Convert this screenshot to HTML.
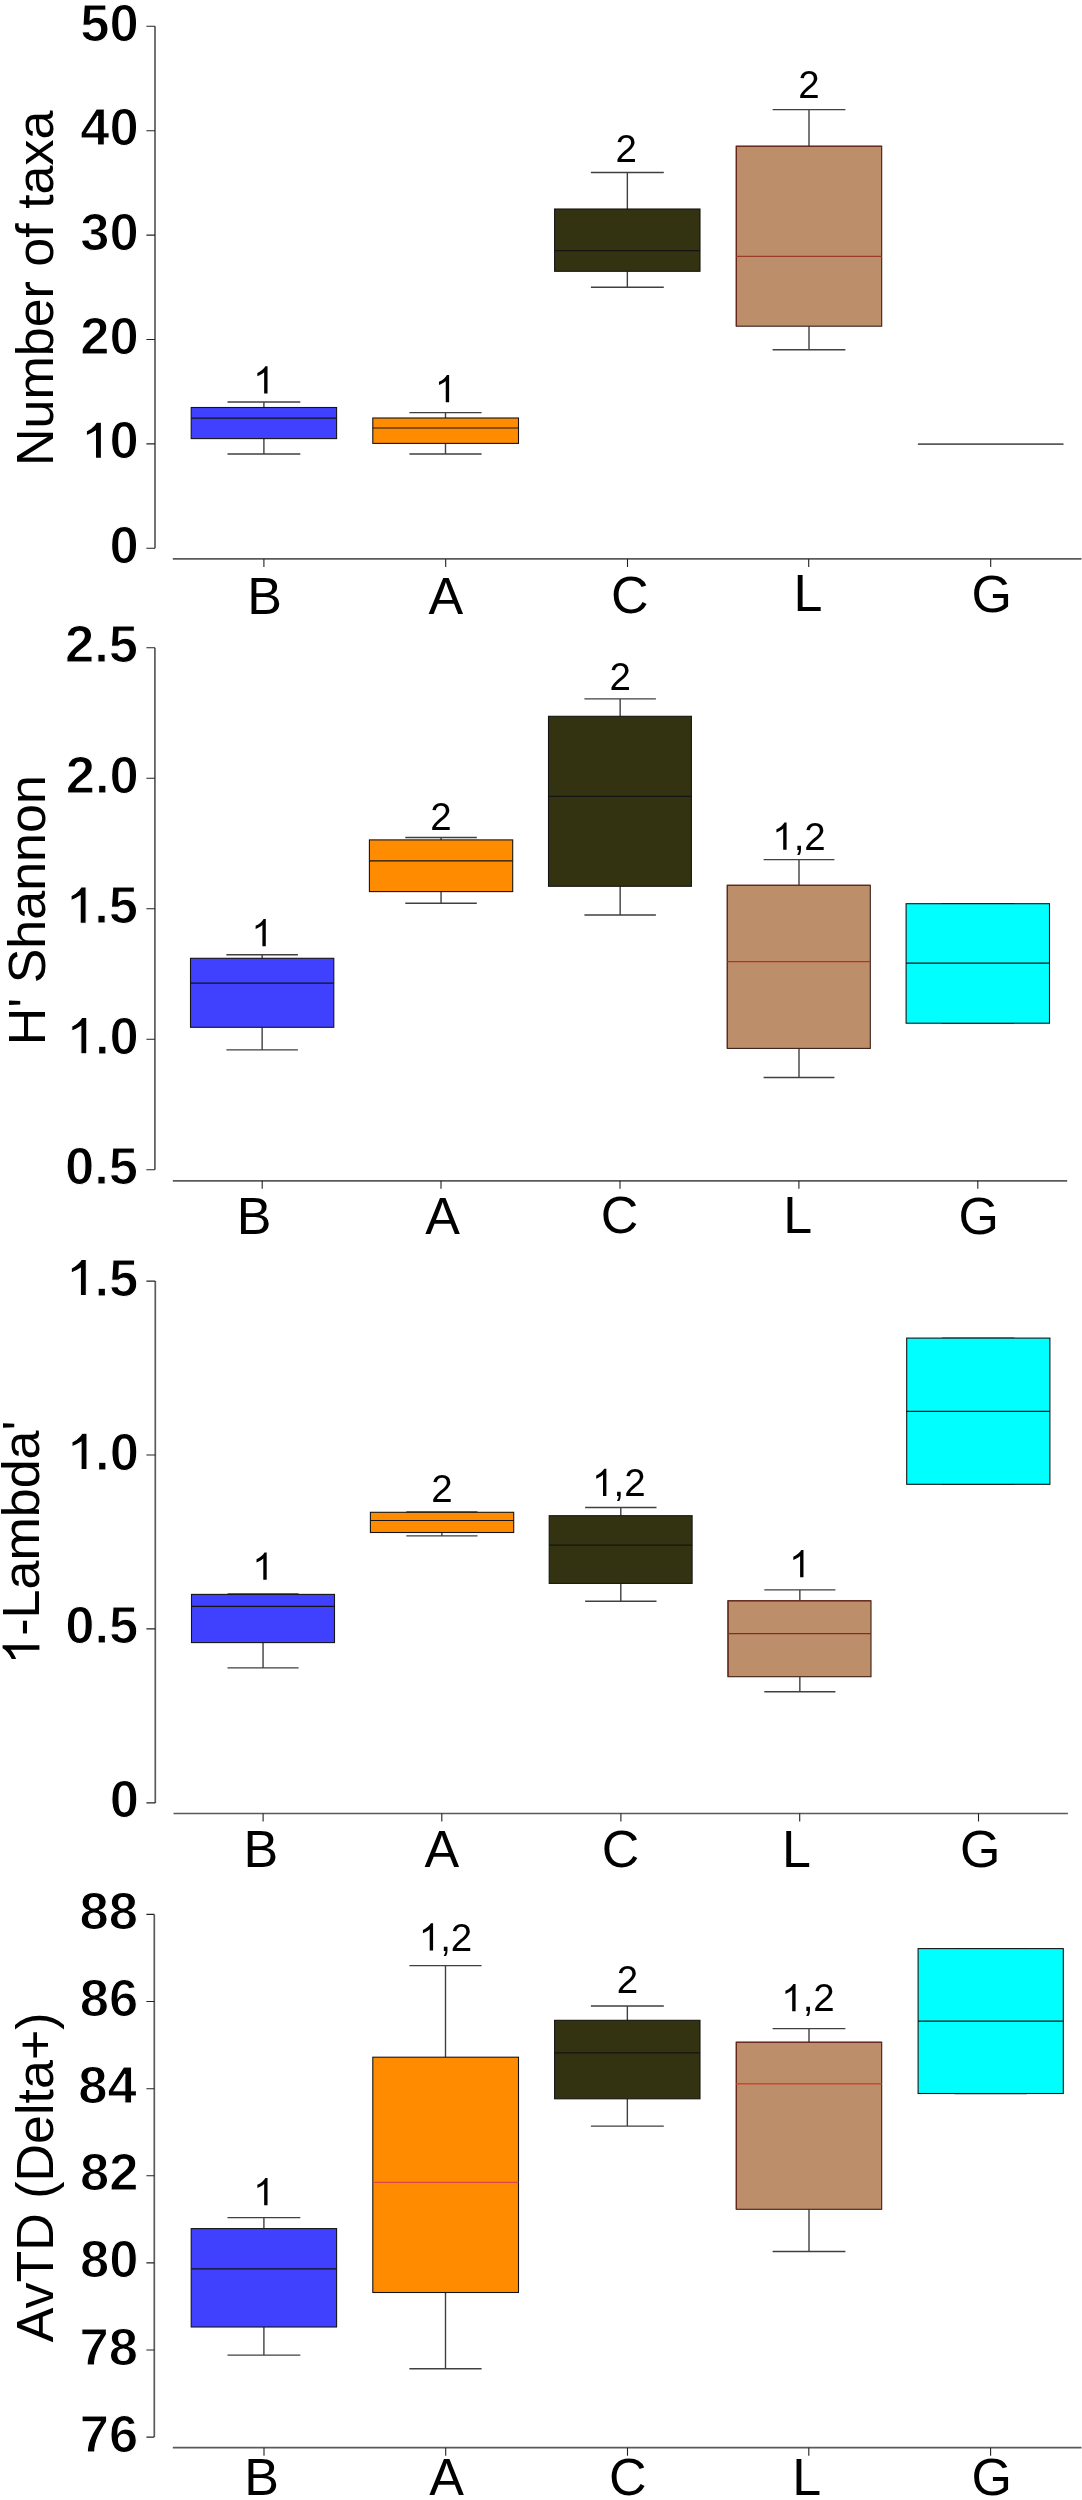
<!DOCTYPE html>
<html><head><meta charset="utf-8"><title>Box plots</title><style>
html,body{margin:0;padding:0;background:#fff;}
body{width:1082px;height:2500px;overflow:hidden;}
svg{display:block;will-change:transform;}
text{font-family:"Liberation Sans",sans-serif;fill:#000;}
.h{fill:none;stroke:none;}
.tk{font-size:52.6px;font-weight:bold;stroke:#fff;stroke-width:1.1px;}
.tkp{fill:#000;stroke:#fff;stroke-width:1.1px;vector-effect:non-scaling-stroke;}
.xl{font-size:52px;}
.tt{font-size:52px;}
.sg{font-size:38.5px;}
.xlp,.ttp,.sgp{fill:#000;}
.ax{stroke:#5a5a5a;stroke-width:1.7;fill:none;}
.tkl{stroke:#222;stroke-width:1.1;fill:none;}
.wh{stroke:#404040;stroke-width:1.4;fill:none;}
</style></head><body>
<svg width="1082" height="2500" viewBox="0 0 1082 2500">
<rect width="1082" height="2500" fill="#fff"/>
<path d="M155 26.3V548.3" class="ax"/>
<path d="M146.4 26.3H155M146.4 130.7H155M146.4 235.1H155M146.4 339.5H155M146.4 443.9H155M146.4 548.3H155" class="tkl"/>
<text x="80.25" y="40.8" class="tk">50</text>
<text x="80.25" y="145.2" class="tk">40</text>
<text x="80.25" y="249.6" class="tk">30</text>
<text x="80.25" y="354" class="tk">20</text>
<text x="80.25" y="458.4" class="tk"><tspan class="h">1</tspan>0</text>
<path class="tkp" d="M825 0H592V1060Q430 950 238 882V1067Q420 1150 540 1290Q600 1360 625 1409H825Z" transform="translate(80.25 458.4) scale(0.025684 -0.025684)"/>
<text x="109.5" y="562.8" class="tk">0</text>
<path d="M172.8 558.9H1081.5" class="ax"/>
<path d="M263.9 558.9V566.9M445.7 558.9V566.9M627.5 558.9V566.9M808.7 558.9V566.9M990.7 558.9V566.9" class="tkl"/>
<text x="247.33" y="614.1" class="xl">B</text>
<text x="428.5" y="614.3" class="xl">A</text>
<text x="611.06" y="612.9" class="xl">C</text>
<text x="793.43" y="611" class="xl">L</text>
<text x="971.48" y="611.6" class="xl">G</text>
<g transform="translate(53.2 466.07) rotate(-90)"><text x="0" y="0" class="tt">Number of taxa</text></g>
<path d="M227.5 402H300.3M263.9 402V407.5M263.9 438.6V454M227.5 454H300.3" class="wh"/>
<rect x="191.2" y="407.5" width="145.4" height="31.1" fill="#4040ff" stroke="#141414" stroke-width="1.1"/>
<path d="M191.2 418.1H336.6" stroke="#141414" stroke-width="1.2"/>
<text x="253.19" y="393.4" class="sg"><tspan class="h">1</tspan></text>
<path class="sgp" d="M763 0H583V1130Q518 1068 412 1008Q306 947 222 916V1088Q373 1157 486 1257Q599 1357 646 1450H763Z" transform="translate(253.19 393.4) scale(0.018799 -0.018799)"/>
<path d="M409.4 412.6H481.6M445.5 412.6V418M445.5 443.4V454M409.4 454H481.6" class="wh"/>
<rect x="372.8" y="418" width="145.7" height="25.4" fill="#ff8c00" stroke="#141414" stroke-width="1.1"/>
<path d="M372.8 428H518.5" stroke="#141414" stroke-width="1.2"/>
<text x="434.79" y="402.3" class="sg"><tspan class="h">1</tspan></text>
<path class="sgp" d="M763 0H583V1130Q518 1068 412 1008Q306 947 222 916V1088Q373 1157 486 1257Q599 1357 646 1450H763Z" transform="translate(434.79 402.3) scale(0.018799 -0.018799)"/>
<path d="M590.9 172.5H663.8M627.35 172.5V209M627.35 271.3V287.2M590.9 287.2H663.8" class="wh"/>
<rect x="554.6" y="209" width="145.4" height="62.3" fill="#333311" stroke="#141414" stroke-width="1.1"/>
<path d="M554.6 250.6H700" stroke="#141414" stroke-width="1.2"/>
<text x="615.44" y="162.3" class="sg">2</text>
<path d="M772.6 109.6H845.4M809 109.6V146.2M809 326.2V349.8M772.6 349.8H845.4" class="wh"/>
<rect x="736.3" y="146.2" width="145.4" height="180" fill="#bc8f6a" stroke="#3a1e18" stroke-width="1.1"/>
<path d="M736.3 326.2V146.2H881.7" fill="none" stroke="#6e2418" stroke-width="1.1"/>
<path d="M736.3 256.3H881.7" stroke="#9a3c2c" stroke-width="1.2"/>
<text x="798.29" y="98.1" class="sg">2</text>
<path d="M917.9 444.1H1063.5" stroke="#5a5a5a" stroke-width="1.7"/>
<path d="M154.9 647.7V1169.7" class="ax"/>
<path d="M146.4 647.7H154.9M146.4 778.2H154.9M146.4 908.7H154.9M146.4 1039.2H154.9M146.4 1169.7H154.9" class="tkl"/>
<text x="64.94" y="662.2" class="tk">2.5</text>
<text x="65.64" y="792.7" class="tk">2.0</text>
<text x="64.94" y="923.2" class="tk"><tspan class="h">1</tspan>.5</text>
<path class="tkp" d="M825 0H592V1060Q430 950 238 882V1067Q420 1150 540 1290Q600 1360 625 1409H825Z" transform="translate(64.94 923.2) scale(0.025684 -0.025684)"/>
<text x="65.64" y="1053.7" class="tk"><tspan class="h">1</tspan>.0</text>
<path class="tkp" d="M825 0H592V1060Q430 950 238 882V1067Q420 1150 540 1290Q600 1360 625 1409H825Z" transform="translate(65.64 1053.7) scale(0.025684 -0.025684)"/>
<text x="64.94" y="1184.2" class="tk">0.5</text>
<path d="M172.8 1180.8H1067.2" class="ax"/>
<path d="M262.2 1180.8V1188.8M441 1180.8V1188.8M620 1180.8V1188.8M798.9 1180.8V1188.8M977.8 1180.8V1188.8" class="tkl"/>
<text x="236.83" y="1233.8" class="xl">B</text>
<text x="425.3" y="1233.8" class="xl">A</text>
<text x="600.86" y="1233.3" class="xl">C</text>
<text x="783.23" y="1233.3" class="xl">L</text>
<text x="958.48" y="1233.6" class="xl">G</text>
<g transform="translate(44.5 1045.27) rotate(-90)"><text x="0" y="0" class="tt">H&#39; Shannon</text></g>
<path d="M226.4 954.8H297.9M262.15 954.8V958.3M262.15 1027.3V1049.9M226.4 1049.9H297.9" class="wh"/>
<rect x="190.5" y="958.3" width="143.3" height="69" fill="#4040ff" stroke="#141414" stroke-width="1.1"/>
<path d="M190.5 983.2H333.8" stroke="#141414" stroke-width="1.2"/>
<text x="251.44" y="946.3" class="sg"><tspan class="h">1</tspan></text>
<path class="sgp" d="M763 0H583V1130Q518 1068 412 1008Q306 947 222 916V1088Q373 1157 486 1257Q599 1357 646 1450H763Z" transform="translate(251.44 946.3) scale(0.018799 -0.018799)"/>
<path d="M405.3 837.5H476.8M441.05 837.5V839.9M441.05 891.6V903.2M405.3 903.2H476.8" class="wh"/>
<rect x="369.4" y="839.9" width="143.3" height="51.7" fill="#ff8c00" stroke="#141414" stroke-width="1.1"/>
<path d="M369.4 860.8H512.7" stroke="#141414" stroke-width="1.2"/>
<text x="430.34" y="829.5" class="sg">2</text>
<path d="M584.4 698.9H655.9M620.15 698.9V716.3M620.15 886.3V915M584.4 915H655.9" class="wh"/>
<rect x="548.5" y="716.3" width="142.9" height="170" fill="#333311" stroke="#141414" stroke-width="1.1"/>
<path d="M548.5 796.4H691.4" stroke="#141414" stroke-width="1.2"/>
<text x="609.44" y="690.2" class="sg">2</text>
<path d="M763.6 859.6H834.4M799 859.6V885.3M799 1048.4V1077.5M763.6 1077.5H834.4" class="wh"/>
<rect x="727.3" y="885.3" width="143" height="163.1" fill="#bc8f6a" stroke="#3a1e18" stroke-width="1.1"/>
<path d="M727.3 1048.4V885.3H870.3" fill="none" stroke="#6e2418" stroke-width="1.1"/>
<path d="M727.3 961.6H870.3" stroke="#c42836" stroke-width="1.2"/>
<text x="772.24" y="849.8" class="sg"><tspan class="h">1</tspan>,2</text>
<path class="sgp" d="M763 0H583V1130Q518 1068 412 1008Q306 947 222 916V1088Q373 1157 486 1257Q599 1357 646 1450H763Z" transform="translate(772.24 849.8) scale(0.018799 -0.018799)"/>
<path d="M941.6 903.7H1014M977.8 903.7V903.7M977.8 1023.2V1023.2M941.6 1023.2H1014" class="wh"/>
<rect x="906.1" y="903.7" width="143.4" height="119.5" fill="#00ffff" stroke="#141414" stroke-width="1.1"/>
<path d="M906.1 963.1H1049.5" stroke="#141414" stroke-width="1.2"/>
<path d="M155.3 1281.1V1802.9" class="ax"/>
<path d="M146.4 1281.1H155.3M146.4 1455H155.3M146.4 1628.9H155.3M146.4 1802.9H155.3" class="tkl"/>
<text x="65.14" y="1295.6" class="tk"><tspan class="h">1</tspan>.5</text>
<path class="tkp" d="M825 0H592V1060Q430 950 238 882V1067Q420 1150 540 1290Q600 1360 625 1409H825Z" transform="translate(65.14 1295.6) scale(0.025684 -0.025684)"/>
<text x="65.84" y="1469.5" class="tk"><tspan class="h">1</tspan>.0</text>
<path class="tkp" d="M825 0H592V1060Q430 950 238 882V1067Q420 1150 540 1290Q600 1360 625 1409H825Z" transform="translate(65.84 1469.5) scale(0.025684 -0.025684)"/>
<text x="65.14" y="1643.4" class="tk">0.5</text>
<text x="109.7" y="1817.4" class="tk">0</text>
<path d="M173.5 1813.5H1067.9" class="ax"/>
<path d="M263.1 1813.5V1821.5M441.8 1813.5V1821.5M620.9 1813.5V1821.5M799.7 1813.5V1821.5M978.5 1813.5V1821.5" class="tkl"/>
<text x="243.43" y="1867.1" class="xl">B</text>
<text x="424.5" y="1867.1" class="xl">A</text>
<text x="601.66" y="1867.4" class="xl">C</text>
<text x="781.93" y="1866.6" class="xl">L</text>
<text x="960.08" y="1867" class="xl">G</text>
<g transform="translate(39.4 1664.66) rotate(-90)"><text x="0" y="0" class="tt"><tspan class="h">1</tspan>-Lambda&#39;</text>
<path class="ttp" d="M763 0H583V1130Q518 1068 412 1008Q306 947 222 916V1088Q373 1157 486 1257Q599 1357 646 1450H763Z" transform="translate(0 0) scale(0.025391 -0.025391)"/></g>
<path d="M227.5 1594H298.6M263.05 1594V1594.4M263.05 1642.6V1667.9M227.5 1667.9H298.6" class="wh"/>
<rect x="191.5" y="1594.4" width="143" height="48.2" fill="#4040ff" stroke="#141414" stroke-width="1.1"/>
<path d="M191.5 1606.4H334.5" stroke="#141414" stroke-width="1.2"/>
<text x="252.34" y="1579.7" class="sg"><tspan class="h">1</tspan></text>
<path class="sgp" d="M763 0H583V1130Q518 1068 412 1008Q306 947 222 916V1088Q373 1157 486 1257Q599 1357 646 1450H763Z" transform="translate(252.34 1579.7) scale(0.018799 -0.018799)"/>
<path d="M406.3 1512H477.5M441.9 1512V1512.3M441.9 1532.5V1535.9M406.3 1535.9H477.5" class="wh"/>
<rect x="370.4" y="1512.3" width="143.3" height="20.2" fill="#ff8c00" stroke="#141414" stroke-width="1.1"/>
<path d="M370.4 1520.5H513.7" stroke="#141414" stroke-width="1.2"/>
<text x="431.19" y="1501.5" class="sg">2</text>
<path d="M585.1 1507.5H656.5M620.8 1507.5V1515.7M620.8 1583.4V1601.2M585.1 1601.2H656.5" class="wh"/>
<rect x="549.2" y="1515.7" width="142.9" height="67.7" fill="#333311" stroke="#141414" stroke-width="1.1"/>
<path d="M549.2 1545.1H692.1" stroke="#141414" stroke-width="1.2"/>
<text x="592.04" y="1496" class="sg"><tspan class="h">1</tspan>,2</text>
<path class="sgp" d="M763 0H583V1130Q518 1068 412 1008Q306 947 222 916V1088Q373 1157 486 1257Q599 1357 646 1450H763Z" transform="translate(592.04 1496) scale(0.018799 -0.018799)"/>
<path d="M764.3 1589.9H835.4M799.85 1589.9V1600.8M799.85 1676.7V1691.8M764.3 1691.8H835.4" class="wh"/>
<rect x="728" y="1600.8" width="143" height="75.9" fill="#bc8f6a" stroke="#3a1e18" stroke-width="1.1"/>
<path d="M728 1676.7V1600.8H871" fill="none" stroke="#6e2418" stroke-width="1.1"/>
<path d="M728 1633.7H871" stroke="#862a28" stroke-width="1.2"/>
<text x="789.14" y="1577.2" class="sg"><tspan class="h">1</tspan></text>
<path class="sgp" d="M763 0H583V1130Q518 1068 412 1008Q306 947 222 916V1088Q373 1157 486 1257Q599 1357 646 1450H763Z" transform="translate(789.14 1577.2) scale(0.018799 -0.018799)"/>
<path d="M942.1 1338.1H1014.5M978.3 1338.1V1338.1M978.3 1484.3V1484.3M942.1 1484.3H1014.5" class="wh"/>
<rect x="906.7" y="1338.1" width="143.2" height="146.2" fill="#00ffff" stroke="#141414" stroke-width="1.1"/>
<path d="M906.7 1411.3H1049.9" stroke="#141414" stroke-width="1.2"/>
<path d="M154.3 1914.4V2437.1" class="ax"/>
<path d="M146.4 1914.4H154.3M146.4 2001.5H154.3M146.4 2088.7H154.3M146.4 2175.8H154.3M146.4 2262.9H154.3M146.4 2350H154.3M146.4 2437.1H154.3" class="tkl"/>
<text x="79.51" y="1928.9" class="tk">88</text>
<text x="79.79" y="2016" class="tk">86</text>
<text x="78.18" y="2103.2" class="tk">84</text>
<text x="80" y="2190.3" class="tk">82</text>
<text x="80.05" y="2277.4" class="tk">80</text>
<text x="79.51" y="2364.5" class="tk">78</text>
<text x="79.79" y="2451.6" class="tk">76</text>
<path d="M172.8 2447.7H1081.5" class="ax"/>
<path d="M264 2447.7V2455.7M445.7 2447.7V2455.7M627.5 2447.7V2455.7M808.8 2447.7V2455.7M990.6 2447.7V2455.7" class="tkl"/>
<text x="244.23" y="2495.1" class="xl">B</text>
<text x="429.3" y="2495.1" class="xl">A</text>
<text x="608.96" y="2494.6" class="xl">C</text>
<text x="792.23" y="2494.5" class="xl">L</text>
<text x="971.38" y="2495" class="xl">G</text>
<g transform="translate(53 2342.3) rotate(-90)"><text x="0" y="0" class="tt">AvTD (Delta+)</text></g>
<path d="M227.5 2217.6H300.3M263.9 2217.6V2228.6M263.9 2327V2355.1M227.5 2355.1H300.3" class="wh"/>
<rect x="191.2" y="2228.6" width="145.4" height="98.4" fill="#4040ff" stroke="#141414" stroke-width="1.1"/>
<path d="M191.2 2268.9H336.6" stroke="#141414" stroke-width="1.2"/>
<text x="253.19" y="2205.3" class="sg"><tspan class="h">1</tspan></text>
<path class="sgp" d="M763 0H583V1130Q518 1068 412 1008Q306 947 222 916V1088Q373 1157 486 1257Q599 1357 646 1450H763Z" transform="translate(253.19 2205.3) scale(0.018799 -0.018799)"/>
<path d="M409.4 1965.6H481.6M445.5 1965.6V2057.2M445.5 2292.5V2368.8M409.4 2368.8H481.6" class="wh"/>
<rect x="372.8" y="2057.2" width="145.7" height="235.3" fill="#ff8c00" stroke="#141414" stroke-width="1.1"/>
<path d="M372.8 2182.4H518.5" stroke="#e04444" stroke-width="1.2"/>
<text x="418.74" y="1950.5" class="sg"><tspan class="h">1</tspan>,2</text>
<path class="sgp" d="M763 0H583V1130Q518 1068 412 1008Q306 947 222 916V1088Q373 1157 486 1257Q599 1357 646 1450H763Z" transform="translate(418.74 1950.5) scale(0.018799 -0.018799)"/>
<path d="M590.9 2006H663.8M627.35 2006V2020.3M627.35 2098.8V2126.1M590.9 2126.1H663.8" class="wh"/>
<rect x="554.6" y="2020.3" width="145.4" height="78.5" fill="#333311" stroke="#141414" stroke-width="1.1"/>
<path d="M554.6 2052.9H700" stroke="#141414" stroke-width="1.2"/>
<text x="616.64" y="1992.5" class="sg">2</text>
<path d="M772.6 2028.6H845.4M809 2028.6V2042.2M809 2209.3V2251.5M772.6 2251.5H845.4" class="wh"/>
<rect x="736.3" y="2042.2" width="145.4" height="167.1" fill="#bc8f6a" stroke="#3a1e18" stroke-width="1.1"/>
<path d="M736.3 2209.3V2042.2H881.7" fill="none" stroke="#6e2418" stroke-width="1.1"/>
<path d="M736.3 2083.8H881.7" stroke="#cc4630" stroke-width="1.6"/>
<text x="781.24" y="2011.3" class="sg"><tspan class="h">1</tspan>,2</text>
<path class="sgp" d="M763 0H583V1130Q518 1068 412 1008Q306 947 222 916V1088Q373 1157 486 1257Q599 1357 646 1450H763Z" transform="translate(781.24 2011.3) scale(0.018799 -0.018799)"/>
<path d="M954.5 1948.6H1026.9M990.7 1948.6V1948.6M990.7 2093.5V2093.5M954.5 2093.5H1026.9" class="wh"/>
<rect x="918.1" y="1948.6" width="145.2" height="144.9" fill="#00ffff" stroke="#141414" stroke-width="1.1"/>
<path d="M918.1 2021.2H1063.3" stroke="#141414" stroke-width="1.2"/>
</svg>
</body></html>
